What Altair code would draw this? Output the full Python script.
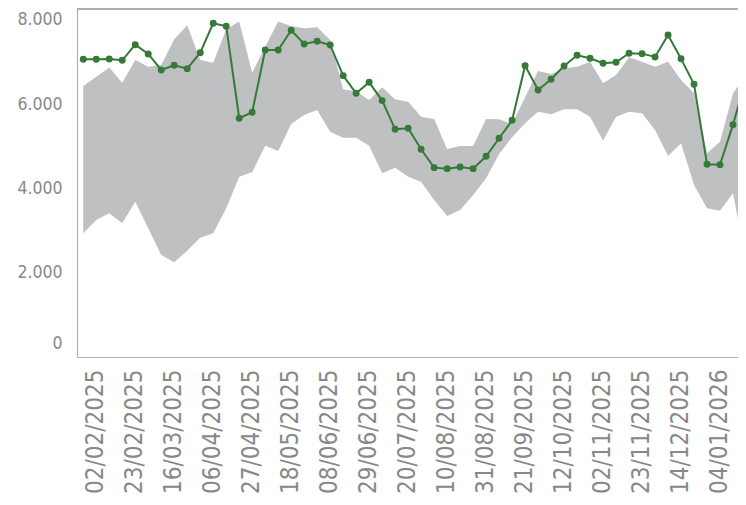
import altair as alt
import pandas as pd

# weekly dates
dates = pd.date_range("2025-02-02", periods=52, freq="7D").strftime("%Y-%m-%d").tolist()

actual = [7068, 7068, 7075, 7044, 7414, 7193, 6813, 6925, 6845, 7224,
          7923, 7852, 5669, 5811, 7289, 7289, 7756, 7431, 7495, 7407,
          6679, 6260, 6521, 6086, 5405, 5429, 4931, 4495, 4471, 4511,
          4471, 4765, 5192, 5619, 6916, 6339, 6593, 6909, 7163, 7092,
          6973, 6996, 7210, 7201, 7123, 7645, 7082, 6474, 4575, 4566,
          5515, 6608]

upper = [6434, 6655, 6870, 6512, 7051, 6892, 6933, 7543, 7875, 7051,
         6988, 7780, 7962, 6750, 7367, 7962, 7858, 7803, 7827, 7526,
         6355, 6300, 6102, 6403, 6118, 6062, 5705, 5651, 4938, 5009,
         5009, 5651, 5643, 5532, 6164, 6790, 6719, 6853, 6892, 7011,
         6498, 6695, 7115, 7011, 6892, 7011, 6576, 6260, 4836, 5112,
         6260, 6695]

lower = [2936, 3253, 3412, 3174, 3688, 3055, 2422, 2248, 2525, 2833,
         2936, 3530, 4281, 4385, 5017, 4891, 5532, 5746, 5864, 5349,
         5207, 5207, 5017, 4361, 4495, 4281, 4162, 3727, 3348, 3490,
         3846, 4243, 4820, 5216, 5548, 5824, 5762, 5880, 5880, 5705,
         5135, 5705, 5824, 5786, 5389, 4772, 5073, 4084, 3530, 3474,
         3886, 2303]

tick_dates = ["2025-02-02", "2025-02-23", "2025-03-16", "2025-04-06", "2025-04-27",
              "2025-05-18", "2025-06-08", "2025-06-29", "2025-07-20", "2025-08-10",
              "2025-08-31", "2025-09-21", "2025-10-12", "2025-11-02", "2025-11-23",
              "2025-12-14", "2026-01-04"]
y_ticks = [0, 2000, 4000, 6000, 8000]

df = pd.DataFrame({"date": dates, "actual": actual, "upper": upper, "lower": lower})


def dt(s, hour=0, minute=0):
    y, m, d = [int(p) for p in s.split("-")]
    return alt.DateTime(year=y, month=m, date=d, hours=hour, minutes=minute, utc=True)


W, H = 661, 348
LABEL = "#888888"
BORDER = "#b0b0b0"
FONT = "DejaVu Sans Condensed, DejaVu Sans, sans-serif"

xscale = alt.Scale(type="utc", domain=[dt("2025-01-29", 15), dt("2026-01-20", 16, 26)])
yscale = alt.Scale(domain=[0, 8261], nice=False, zero=True)

x_enc = alt.X(
    "date:T",
    scale=xscale,
    axis=alt.Axis(
        values=[dt(s) for s in tick_dates],
        format="%d/%m/%Y",
        labelAngle=-90,
        labelOffset=12,
        labelPadding=12,
        ticks=False,
        tickSize=0,
        grid=False,
        labelFont=FONT,
        labelFontSize=24,
        labelColor=LABEL,
        domainColor=BORDER,
        domainWidth=1.2,
        labelOverlap=False,
        title=None,
    ),
)

y_axis = alt.Axis(
    values=y_ticks,
    labelExpr="replace(format(datum.value, ','), ',', '.')",
    labelPadding=15,
    ticks=False,
    tickSize=0,
    grid=False,
    labelFont=FONT,
    labelFontSize=17.5,
    labelColor=LABEL,
    labelFlush=True,
    labelFlushOffset=-5,
    domainColor=BORDER,
    domainWidth=1.2,
    title=None,
)

base = alt.Chart(df)

band = base.mark_area(color="#bfc0c2", clip=True, opacity=1).encode(
    x=x_enc,
    y=alt.Y("lower:Q", scale=yscale, axis=y_axis),
    y2="upper:Q",
)

line = base.mark_line(color="#357a38", strokeWidth=2, clip=True).encode(
    x="date:T",
    y="actual:Q",
)

pts = base.mark_circle(color="#357a38", size=48, opacity=1, clip=True).encode(
    x="date:T",
    y="actual:Q",
)

top_border = alt.Chart(df).mark_rule(color=BORDER, strokeWidth=1.2).encode(
    x=alt.value(0), x2=alt.value(W), y=alt.value(0)
)

chart = (
    alt.layer(band, line, pts, top_border)
    .properties(
        width=W,
        height=H,
        autosize=alt.AutoSizeParams(type="none"),
        padding={"left": 69, "top": 1, "right": 0, "bottom": 140},
    )
    .configure_view(stroke=None)
    .configure(background="white")
)

chart.save("out.html", embed_options={"renderer": "svg", "actions": False})
